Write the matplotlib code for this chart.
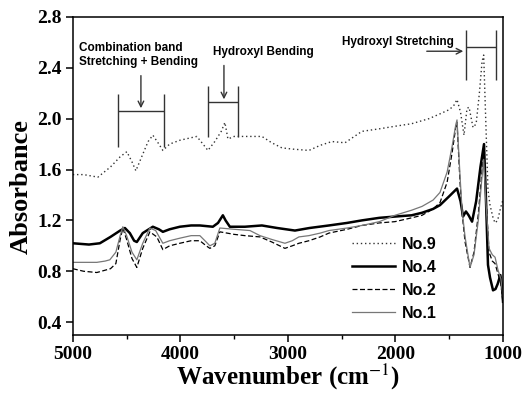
import matplotlib
matplotlib.use("Agg")
import matplotlib.pyplot as plt

# spectra (wavenumber in cm-1, absorbance)
wn_9 = [5000, 4900, 4767, 4650, 4560, 4498, 4450, 4414, 4350, 4300, 4256, 4200, 4163, 4100,
        4005, 3900, 3847, 3790, 3744, 3680, 3620, 3586, 3558, 3500, 3447, 3350, 3242, 3150,
        3056, 2950, 2805, 2700, 2591, 2470, 2400, 2312, 2150, 2005, 1850, 1688, 1580, 1502,
        1460, 1428, 1395, 1363, 1335, 1316, 1279, 1250, 1220, 1195, 1180, 1165, 1140, 1121,
        1093, 1074, 1050, 1028, 1009, 1000]
abs_9 = [1.56, 1.56, 1.54, 1.62, 1.70, 1.74, 1.66, 1.59, 1.72, 1.82, 1.87, 1.80, 1.75, 1.80,
         1.83, 1.85, 1.86, 1.80, 1.75, 1.82, 1.90, 1.97, 1.84, 1.86, 1.86, 1.86, 1.86, 1.81,
         1.77, 1.76, 1.75, 1.79, 1.82, 1.81, 1.85, 1.90, 1.92, 1.94, 1.96, 2.00, 2.04, 2.07,
         2.10, 2.15, 2.05, 1.87, 2.08, 2.09, 1.93, 1.96, 2.20, 2.45, 2.50, 2.10, 1.44, 1.32,
         1.22, 1.18, 1.20, 1.28, 1.34, 1.36]

wn_4 = [5000, 4850, 4749, 4650, 4560, 4516, 4470, 4430, 4405, 4350, 4256, 4200, 4163, 4100,
        4005, 3900, 3819, 3698, 3650, 3605, 3580, 3540, 3400, 3242, 3100, 2935, 2800, 2619,
        2450, 2312, 2150, 2005, 1850, 1753, 1650, 1586, 1500, 1428, 1395, 1372, 1345, 1320,
        1288, 1250, 1210, 1177, 1160, 1140, 1121, 1093, 1070, 1050, 1025, 1010, 1000]
abs_4 = [1.02, 1.01, 1.02, 1.07, 1.12, 1.14, 1.10, 1.04, 1.03, 1.10, 1.15, 1.13, 1.11, 1.13,
         1.15, 1.16, 1.16, 1.15, 1.18, 1.24, 1.20, 1.15, 1.15, 1.16, 1.14, 1.12, 1.14, 1.16,
         1.18, 1.20, 1.22, 1.23, 1.24, 1.26, 1.29, 1.32, 1.39, 1.45, 1.35, 1.23, 1.27, 1.24,
         1.19, 1.35, 1.62, 1.80, 1.40, 0.85, 0.75, 0.65, 0.66, 0.70, 0.77, 0.68, 0.56]

wn_2 = [5000, 4900, 4777, 4650, 4600, 4560, 4535, 4500, 4450, 4405, 4350, 4284, 4219, 4163,
        4100, 4005, 3900, 3819, 3760, 3726, 3680, 3633, 3500, 3400, 3260, 3150, 3028, 2960,
        2898, 2805, 2700, 2619, 2450, 2312, 2150, 2005, 1850, 1753, 1650, 1586, 1520, 1474,
        1440, 1428, 1400, 1381, 1353, 1307, 1270, 1230, 1200, 1180, 1160, 1130, 1100, 1074,
        1047, 1020, 1000]
abs_2 = [0.82, 0.80, 0.79, 0.82, 0.86, 1.05, 1.14, 1.05, 0.90, 0.83, 0.98, 1.11, 1.07, 0.97,
         1.00, 1.02, 1.04, 1.04, 1.00, 0.98, 1.00, 1.11, 1.09, 1.08, 1.07, 1.03, 0.98, 1.00,
         1.02, 1.04, 1.07, 1.10, 1.13, 1.16, 1.18, 1.19, 1.22, 1.24, 1.29, 1.34, 1.50, 1.73,
         1.93, 1.97, 1.50, 1.26, 1.03, 0.83, 0.95, 1.25, 1.55, 1.72, 1.40, 0.95, 0.88, 0.86,
         0.78, 0.70, 0.55]

wn_1 = [5000, 4900, 4777, 4700, 4656, 4600, 4560, 4535, 4500, 4450, 4405, 4350, 4284, 4230,
        4163, 4100, 4005, 3900, 3819, 3760, 3726, 3680, 3633, 3500, 3353, 3260, 3150, 3028,
        2960, 2898, 2805, 2700, 2619, 2450, 2312, 2150, 2005, 1850, 1753, 1650, 1586, 1520,
        1474, 1440, 1428, 1400, 1381, 1353, 1307, 1270, 1230, 1200, 1180, 1160, 1130, 1100,
        1074, 1047, 1020, 1000]
abs_1 = [0.87, 0.87, 0.87, 0.88, 0.89, 0.95, 1.08, 1.15, 1.08, 0.95, 0.89, 1.02, 1.14, 1.12,
         1.02, 1.04, 1.06, 1.08, 1.08, 1.03, 1.00, 1.02, 1.14, 1.13, 1.12, 1.08, 1.05, 1.02,
         1.04, 1.07, 1.08, 1.10, 1.12, 1.14, 1.16, 1.19, 1.24, 1.28, 1.31, 1.36, 1.42, 1.58,
         1.78, 1.95, 1.99, 1.55, 1.28, 1.07, 0.83, 0.93, 1.20, 1.50, 1.68, 1.35, 0.98, 0.93,
         0.91, 0.81, 0.74, 0.60]

labels = ["No.9", "No.4", "No.2", "No.1"]

serif = "Liberation Serif"
sans = "Liberation Sans"
plt.rcParams["mathtext.fontset"] = "stix"

fig = plt.figure(figsize=(5.24, 3.93), dpi=100)
ax = fig.add_axes([0.139, 0.148, 0.821, 0.809])

ax.plot(wn_9, abs_9, color="#333333", lw=1.0, linestyle=(0, (1, 2)), label=labels[0])
ax.plot(wn_4, abs_4, color="black", lw=1.8, label=labels[1])
ax.plot(wn_2, abs_2, color="black", lw=0.9, linestyle=(0, (4, 2)), label=labels[2])
ax.plot(wn_1, abs_1, color="#777777", lw=0.9, label=labels[3])

ax.set_xlim(5000, 1000)
ax.set_ylim(0.3, 2.8)
ax.set_xticks([5000, 4000, 3000, 2000, 1000])
ax.set_xticks([4500, 3500, 2500, 1500], minor=True)
ax.set_yticks([0.4, 0.8, 1.2, 1.6, 2.0, 2.4, 2.8])
ax.tick_params(which="major", direction="out", length=5, width=1.1, pad=3)
ax.tick_params(which="minor", direction="out", length=3, width=1.0)
for lab in ax.get_xticklabels() + ax.get_yticklabels():
    lab.set_fontfamily(serif)
    lab.set_fontweight("bold")
    lab.set_fontsize(14)
for sp in ax.spines.values():
    sp.set_linewidth(1.1)

ax.set_xlabel("Wavenumber (cm$^{-1}$)", fontfamily=serif, fontweight="bold", fontsize=18)
ax.set_ylabel("Absorbance", fontfamily=serif, fontweight="bold", fontsize=19)
ax.xaxis.set_label_coords(0.5, -0.085)
ax.yaxis.set_label_coords(-0.094, 0.465)

# band annotations
bc = "#333333"
ax.text(4944, 2.50, "Combination band\nStretching + Bending", fontfamily=sans,
        fontweight="bold", fontsize=8.5, va="center", ha="left", linespacing=1.15)
ax.vlines([4581, 4153], 1.78, 2.19, color=bc, lw=1)
ax.hlines(2.06, 4581, 4153, color=bc, lw=1)
ax.annotate("", xy=(4367, 2.06), xytext=(4367, 2.36),
            arrowprops=dict(arrowstyle="->", color=bc, lw=1))

ax.text(3698, 2.524, "Hydroxyl Bending", fontfamily=sans, fontweight="bold",
        fontsize=8.5, va="center", ha="left")
ax.vlines([3744, 3465], 1.855, 2.26, color=bc, lw=1)
ax.hlines(2.13, 3744, 3465, color=bc, lw=1)
ax.annotate("", xy=(3595, 2.13), xytext=(3595, 2.44),
            arrowprops=dict(arrowstyle="->", color=bc, lw=1))

ax.text(2498, 2.603, "Hydroxyl Stretching", fontfamily=sans, fontweight="bold",
        fontsize=8.5, va="center", ha="left")
ax.vlines([1344, 1065], 2.30, 2.70, color=bc, lw=1)
ax.hlines(2.56, 1344, 1065, color=bc, lw=1)
ax.annotate("", xy=(1344, 2.53), xytext=(1735, 2.53),
            arrowprops=dict(arrowstyle="->", color=bc, lw=1))

ax.legend(loc="center", bbox_to_anchor=(0.748, 0.176), frameon=False,
          prop=dict(family=sans, weight="bold", size=11.5), handlelength=2.7,
          handletextpad=0.45, labelspacing=0.5)

fig.savefig("out.png", dpi=100)
